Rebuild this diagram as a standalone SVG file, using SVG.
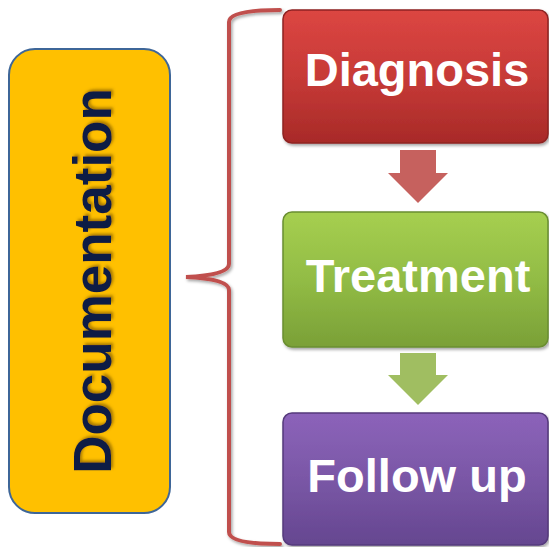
<svg xmlns="http://www.w3.org/2000/svg" width="549" height="547" viewBox="0 0 549 547">
  <defs>
    <linearGradient id="gRed" x1="0" y1="0" x2="0" y2="1">
      <stop offset="0" stop-color="#DC4642"/>
      <stop offset="0.5" stop-color="#C73A37"/>
      <stop offset="1" stop-color="#A82A28"/>
    </linearGradient>
    <linearGradient id="gGreen" x1="0" y1="0" x2="0" y2="1">
      <stop offset="0" stop-color="#A6CF50"/>
      <stop offset="0.5" stop-color="#92BC45"/>
      <stop offset="1" stop-color="#7AA037"/>
    </linearGradient>
    <linearGradient id="gPurple" x1="0" y1="0" x2="0" y2="1">
      <stop offset="0" stop-color="#8C63BA"/>
      <stop offset="0.5" stop-color="#7A57A6"/>
      <stop offset="1" stop-color="#654690"/>
    </linearGradient>
    <filter id="shadow" x="-10%" y="-10%" width="130%" height="130%">
      <feDropShadow dx="1.5" dy="2" stdDeviation="1.5" flood-color="#000" flood-opacity="0.35"/>
    </filter>
    <filter id="tshadow" x="-10%" y="-10%" width="130%" height="130%">
      <feDropShadow dx="2" dy="2" stdDeviation="1.5" flood-color="#6b4a00" flood-opacity="0.6"/>
    </filter>
  </defs>
  <style>
    .lbl { font-family: "Liberation Sans", Arial, sans-serif; font-weight: bold; font-size: 47px; fill: #FFFFFF; text-anchor: middle; }
    .doc { font-family: "Liberation Sans", Arial, sans-serif; font-weight: bold; font-size: 53px; fill: #0B1A45; text-anchor: middle; }
    .box { stroke-width: 1.5; }
  </style>

  <g id="documentation">
    <rect x="9" y="49" width="161" height="464" rx="26" ry="26" fill="#FFC000" stroke="#3E6698" stroke-width="2"/>
    <text class="doc" transform="translate(111,281) rotate(-90)" filter="url(#tshadow)">Documentation</text>
  </g>

  <g id="connectors">
    <path id="brace" d="M280,10 Q229,10 229,22 L229,264 Q229,275 186,277 Q229,279 229,290 L229,532 Q229,544 280,544" fill="none" stroke="#C0504D" stroke-width="4" stroke-linecap="round" filter="url(#shadow)"/>
    <polygon id="arrow1" points="400,150 436,150 436,173 448,173 418,203 388,173 400,173" fill="#C0504D" opacity="0.9"/>
    <polygon id="arrow2" points="400,353 436,353 436,375 448,375 418,405 388,375 400,375" fill="#9BBB59" opacity="0.95"/>
  </g>

  <g id="diagnosis">
    <rect class="box" x="283" y="10" width="265" height="133" rx="9" ry="9" fill="url(#gRed)" stroke="#8E2422" filter="url(#shadow)"/>
    <text class="lbl" x="417" y="86">Diagnosis</text>
  </g>

  <g id="treatment">
    <rect class="box" x="283" y="212" width="265" height="135" rx="9" ry="9" fill="url(#gGreen)" stroke="#6A8E30" filter="url(#shadow)"/>
    <text class="lbl" x="418" y="292">Treatment</text>
  </g>

  <g id="followup">
    <rect class="box" x="283" y="413" width="265" height="132" rx="9" ry="9" fill="url(#gPurple)" stroke="#553A7C" filter="url(#shadow)"/>
    <text class="lbl" x="417" y="492">Follow up</text>
  </g>
</svg>
